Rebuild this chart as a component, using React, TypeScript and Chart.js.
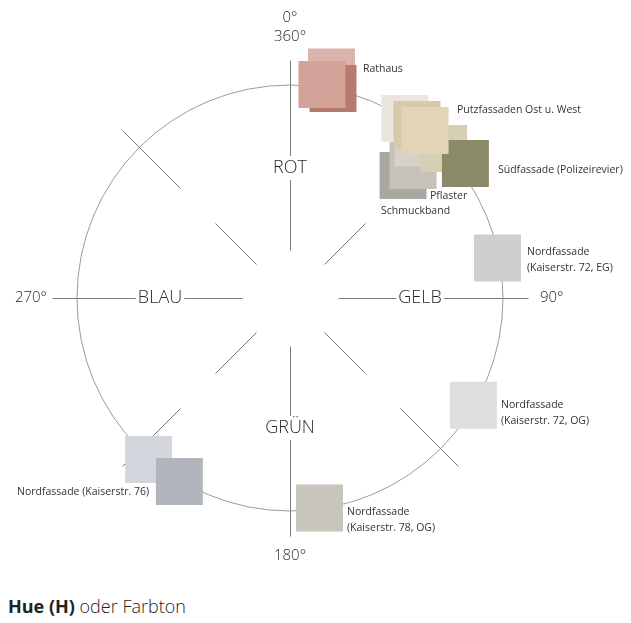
import React, { useEffect, useRef } from "react";
import { Chart, registerables } from "chart.js";

Chart.register(...registerables);

// ---- data ----
// Swatches: hue angle (deg, clockwise from ROT) and distance from centre (px-units)
const swatchNames = [
  "Rathaus (hell)",
  "Rathaus (dunkel)",
  "Rathaus",
  "Putzfassade (weißgrau)",
  "Schmuckband",
  "Pflaster",
  "Putzfassade (hellgrau)",
  "Südfassade (hell)",
  "Südfassade (Polizeirevier)",
  "Putzfassade Ost",
  "Putzfassade West",
  "Nordfassade (Kaiserstr. 72, EG)",
  "Nordfassade (Kaiserstr. 72, OG)",
  "Nordfassade (Kaiserstr. 76, hell)",
  "Nordfassade (Kaiserstr. 76)",
  "Nordfassade (Kaiserstr. 78, OG)",
];
const swatchHue = [10.4, 11.6, 8.5, 32.6, 42.7, 42.9, 39.6, 45.8, 52.5, 36.2, 38.9, 79.1, 120.3, 221.2, 211.1, 172.0];
const swatchDist = [229.8, 213.9, 215.9, 213.2, 166.7, 180.8, 201, 214.3, 221.1, 215, 215.1, 211.3, 212.4, 214.7, 214.2, 212.1];
const swatchColors = [
  "#dcb3ac",
  "#b67a6f",
  "#d3a39a",
  "#e9e6e0",
  "#a9a7a1",
  "#c6c2b9",
  "#d8d2c6",
  "#d6cfb3",
  "#8b8a68",
  "#d9c9ab",
  "#e3d4b6",
  "#cfcfcd",
  "#dddedd",
  "#d3d6dd",
  "#b1b6bc",
  "#c8c5bc",
];

const hueNames = ["ROT", "GELB", "GRÜN", "BLAU"];
const hueNameAngles = [0, 90, 180, 270];
const degreeLabels = ["0°", "360°", "90°", "180°", "270°"];
const degreeAngles = [0, 0, 90, 180, 270];

const CIRCLE_R = 213;

// label texts (lines) and anchor in chart units (centre = 0,0, y up)
const labelTexts = [
  ["Rathaus"],
  ["Putzfassaden Ost u. West"],
  ["Südfassade (Polizeirevier)"],
  ["Pflaster"],
  ["Schmuckband"],
  ["Nordfassade", "(Kaiserstr. 72, EG)"],
  ["Nordfassade", "(Kaiserstr. 72, OG)"],
  ["Nordfassade (Kaiserstr. 76)"],
  ["Nordfassade", "(Kaiserstr. 78, OG)"],
];
const labelX = [73, 167, 208, 140, 91, 237, 211, -273, 57];
const labelY = [229, 188, 128, 102, 87, 46, -107, -194, -214];

const rad = (d: number) => (d * Math.PI) / 180;
const polarX = (hue: number, r: number) => r * Math.sin(rad(hue));
const polarY = (hue: number, r: number) => r * Math.cos(rad(hue));

const FONT = "'Open Sans', 'Noto Sans', sans-serif";

const guidePlugin = {
  id: "hueGuides",
  beforeDatasetsDraw(chart: any) {
    const { ctx, scales } = chart;
    const xs = scales.x;
    const ys = scales.y;
    const P = (hue: number, r: number) => [
      xs.getPixelForValue(polarX(hue, r)),
      ys.getPixelForValue(polarY(hue, r)),
    ];
    const cx = xs.getPixelForValue(0);
    const cy = ys.getPixelForValue(0);
    const ux = xs.getPixelForValue(1) - cx;
    const uy = cy - ys.getPixelForValue(1);
    ctx.save();
    // circle
    ctx.beginPath();
    ctx.ellipse(cx, cy, CIRCLE_R * ux, CIRCLE_R * uy, 0, 0, Math.PI * 2);
    ctx.strokeStyle = "#9c9c9c";
    ctx.lineWidth = 1;
    ctx.stroke();

    const seg = (hue: number, r1: number, r2: number) => {
      const a = P(hue, r1);
      const b = P(hue, r2);
      ctx.beginPath();
      ctx.moveTo(Math.round(a[0]) + 0.5, Math.round(a[1]) + 0.5);
      ctx.lineTo(Math.round(b[0]) + 0.5, Math.round(b[1]) + 0.5);
      ctx.stroke();
    };
    ctx.strokeStyle = "#7a7a7a";
    [0, 90, 180, 270].forEach((h) => seg(h, 48, 238));
    [45, 135, 225, 315].forEach((h) => {
      seg(h, 48, 106);
      seg(h, 155, 238);
    });

    // hue names
    ctx.font = `300 18px ${FONT}`;
    ctx.textAlign = "center";
    ctx.textBaseline = "middle";
    hueNames.forEach((n, i) => {
      const [px, py] = P(hueNameAngles[i], 130);
      const w = ctx.measureText(n).width;
      ctx.fillStyle = "#ffffff";
      ctx.fillRect(px - w / 2 - 2, py - 12, w + 4, 24);
      ctx.fillStyle = "#2b2b2b";
      ctx.fillText(n, px, py);
    });

    // degree labels
    ctx.font = `300 15px ${FONT}`;
    ctx.fillStyle = "#2b2b2b";
    const degR = [280, 261, 250, 258, 243];
    degreeLabels.forEach((t, i) => {
      const a = degreeAngles[i];
      const [px, py] = P(a, degR[i]);
      ctx.textAlign = a === 90 ? "left" : a === 270 ? "right" : "center";
      ctx.fillText(t, px, py);
    });
    ctx.restore();
  },
  afterDatasetsDraw(chart: any) {
    const { ctx, scales } = chart;
    const xs = scales.x;
    const ys = scales.y;
    ctx.save();
    ctx.font = `400 10.5px ${FONT}`;
    ctx.fillStyle = "#333333";
    ctx.textAlign = "left";
    ctx.textBaseline = "middle";
    labelTexts.forEach((lines, i) => {
      const px = xs.getPixelForValue(labelX[i]);
      const py = ys.getPixelForValue(labelY[i]);
      lines.forEach((l, j) => ctx.fillText(l, px, py + j * 16));
    });
    ctx.restore();
  },
};

export default function App() {
  const ref = useRef<HTMLCanvasElement | null>(null);
  useEffect(() => {
    if (!ref.current) return;
    const points = swatchHue.map((h, i) => ({
      x: polarX(h, swatchDist[i]),
      y: polarY(h, swatchDist[i]),
    }));
    const chart = new Chart(ref.current, {
      type: "scatter",
      data: {
        labels: swatchNames,
        datasets: [
          {
            label: "Farbmuster",
            data: points,
            pointStyle: "rect",
            pointRadius: 33.2,
            pointHoverRadius: 33.2,
            backgroundColor: swatchColors,
            borderWidth: 0,
            clip: false as any,
          },
        ],
      },
      options: {
        animation: false,
        responsive: false,
        maintainAspectRatio: false,
        layout: { padding: 0, autoPadding: false },
        events: [],
        plugins: {
          legend: { display: false },
          tooltip: { enabled: false },
          title: { display: false },
        },
        scales: {
          x: { type: "linear", min: -282, max: 333, display: false },
          y: { type: "linear", min: -285, max: 290, display: false },
        },
      },
      plugins: [guidePlugin],
    });
    return () => chart.destroy();
  }, []);
  return (
    <div>
      <div style={{ width: 615, height: 575 }}>
        <canvas ref={ref} width={615} height={575} style={{ display: "block" }} />
      </div>
      <div
        style={{
          fontFamily: FONT,
          fontSize: 18,
          lineHeight: "24px",
          color: "#222",
          marginTop: 11,
          fontWeight: 300,
        }}
      >
        <span style={{ fontWeight: 700 }}>Hue (H)</span> oder Farbton
      </div>
    </div>
  );
}
